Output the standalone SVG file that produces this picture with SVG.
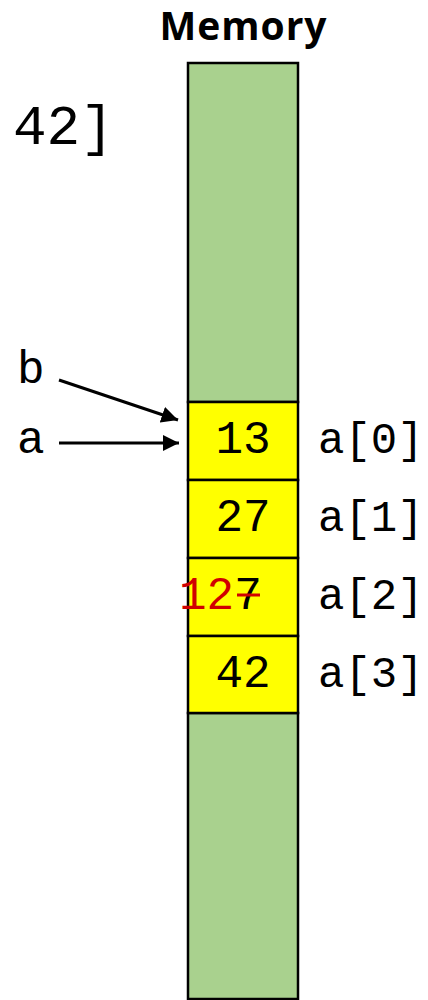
<svg xmlns="http://www.w3.org/2000/svg" width="428" height="1000" viewBox="0 0 428 1000">
<style>
.mono{font-family:"Liberation Mono","Courier New",monospace;font-size:46px;fill:#000}
.lbl{font-size:44px}
.green{fill:#A9D18E;stroke:#000;stroke-width:2.5}
.cell{fill:#FFFF00;stroke:#000;stroke-width:2.5}
.conn{stroke:#000;stroke-width:3;fill:none}
</style>
<defs>
<marker id="ah" markerWidth="5.5" markerHeight="5.5" refX="5.5" refY="2.75" orient="auto" markerUnits="strokeWidth">
<path d="M0,0 L5.5,2.75 L0,5.5 Z" fill="#000"/>
</marker>
</defs>
<rect width="428" height="1000" fill="#fff"/>
<g id="title"><text x="243" y="40" text-anchor="middle" style="font-family:'Open Sans','Liberation Sans',sans-serif;font-weight:bold;font-size:39px" textLength="167">Memory</text></g>
<g id="frag"><text x="13" y="144" class="mono" style="font-size:56px">42]</text></g>
<g id="mem-top"><rect class="green" x="188" y="63" width="110" height="339"/></g>
<g id="mem-bottom"><rect class="green" x="188" y="713" width="110" height="286"/></g>
<g id="cell0"><rect class="cell" x="188" y="402" width="110" height="78"/><text class="mono" x="243" y="453" text-anchor="middle">13</text></g>
<g id="cell1"><rect class="cell" x="188" y="480" width="110" height="78"/><text class="mono" x="243" y="531" text-anchor="middle">27</text></g>
<g id="cell2"><rect class="cell" x="188" y="558" width="110" height="78"/><text class="mono" x="179" y="609"><tspan fill="#D00000">12</tspan><tspan fill="#000">7</tspan></text><line x1="237" y1="595" x2="260" y2="595" stroke="#D00000" stroke-width="3"/></g>
<g id="cell3"><rect class="cell" x="188" y="636" width="110" height="77"/><text class="mono" x="243" y="687" text-anchor="middle">42</text></g>
<g id="labels">
<text class="mono lbl" x="318" y="453">a[0]</text>
<text class="mono lbl" x="318" y="531">a[1]</text>
<text class="mono lbl" x="318" y="609">a[2]</text>
<text class="mono lbl" x="318" y="687">a[3]</text>
</g>
<g id="var-b"><text class="mono" x="17" y="383">b</text></g>
<g id="var-a"><text class="mono" x="17" y="453">a</text></g>
<g id="connectors">
<line class="conn" x1="59" y1="380" x2="178" y2="420" marker-end="url(#ah)"/>
<line class="conn" x1="59" y1="443" x2="179" y2="443" marker-end="url(#ah)"/>
</g>
</svg>
